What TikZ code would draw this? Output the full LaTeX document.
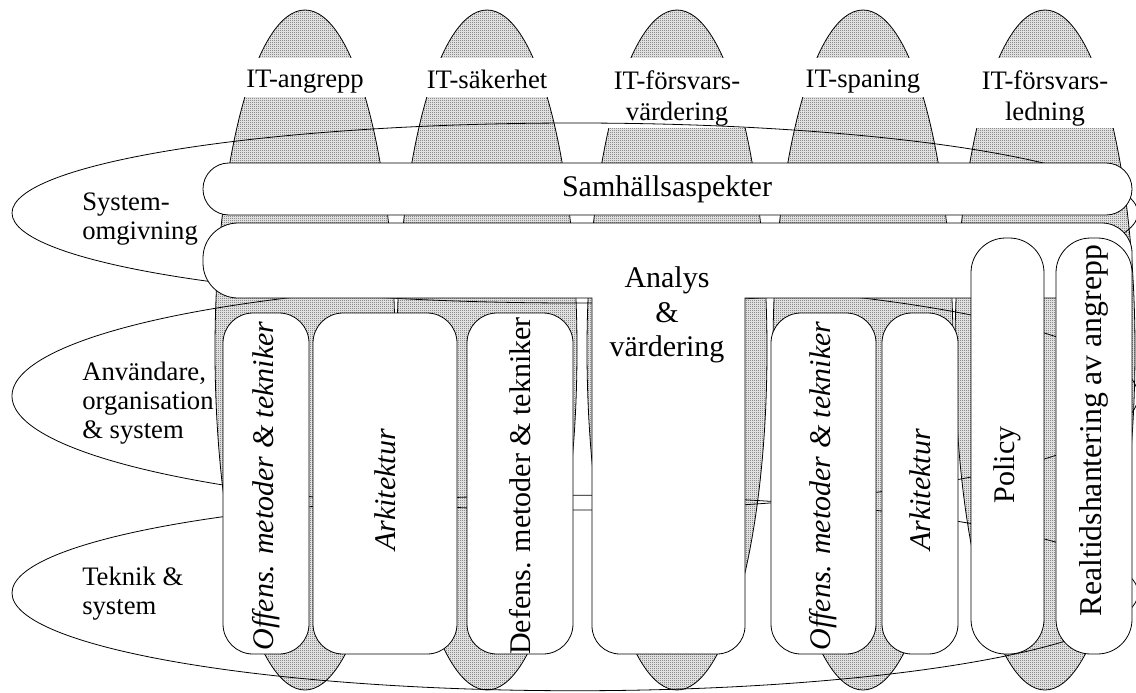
\documentclass[tikz,border=0pt]{standalone}
\usepackage{fontspec}
\setmainfont{Liberation Serif}
\usetikzlibrary{patterns}
% fine dot raster used for the shaded fields
\pgfdeclarepatternformonly{finedots}{\pgfqpoint{0pt}{0pt}}{\pgfqpoint{0.75pt}{0.75pt}}{\pgfqpoint{1.5pt}{1.5pt}}{%
  \pgfpathrectangle{\pgfqpoint{0pt}{0pt}}{\pgfqpoint{0.75pt}{0.75pt}}\pgfusepath{fill}}
\begin{document}
\begin{tikzpicture}[x=0.75pt,y=-0.75pt,
  column/.style={draw=black, line width=0.6pt, preaction={fill=black!12}, pattern=finedots, pattern color=black!45},
  ring/.style={draw=black, line width=0.6pt},
  whitebox/.style={draw=black, line width=0.6pt, fill=white},
  collabel/.style={font=\fontsize{20}{23.25}\selectfont, align=center, inner sep=0pt, anchor=north},
  rowlabel/.style={font=\fontsize{20}{21.75}\selectfont, align=left, inner sep=0pt, anchor=north west},
  boxlabel/.style={font=\fontsize{22.5}{25.9}\selectfont, align=center, inner sep=0pt},
  vlabel/.style={font=\fontsize{22.5}{25.9}\selectfont, inner sep=0pt, rotate=90},
]
\useasboundingbox (0,0) rectangle (1136,693);

% vertical fields
\foreach \cx in {305,487,677,863,1045}
  \draw[column] (\cx,350) ellipse [x radius=67.5pt, y radius=255pt];

% white bands behind the field titles
\foreach \cx/\yb in {305/97,487/97,677/128,863/97,1045/128}
  \fill[white] (\cx-75,58) rectangle (\cx+75,\yb);

\node[collabel] (t1) at (305,70) {IT-angrepp};
\node[collabel] (t2) at (487,70) {IT-säkerhet};
\node[collabel] (t3) at (677,70) {IT-försvars-\\värdering};
\node[collabel] (t4) at (863,70) {IT-spaning};
\node[collabel] (t5) at (1045,70) {IT-försvars-\\ledning};

% horizontal levels
\draw[ring] (575,213) ellipse [x radius=422.25pt, y radius=67.5pt];
\draw[ring] (575,396) ellipse [x radius=422.25pt, y radius=85.5pt];
\draw[ring] (575,593) ellipse [x radius=422.25pt, y radius=73.3pt];

\node[rowlabel] (r1) at (82,193) {System-\\omgivning};
\node[rowlabel] (r2) at (82,362) {Användare,\\organisation\\\& system};
\node[rowlabel] (r3) at (82,567) {Teknik \&\\system};

% society bar
\draw[whitebox, rounded corners=19.4pt] (203,163) rectangle (1132,215);
\node[boxlabel] (samh) at (667,189) {Samhällsaspekter};

% analysis bar with its stem
\draw[whitebox] (238,223) -- (1102,223)
  arc[start angle=-90, end angle=0, radius=30] -- (1132,268)
  arc[start angle=0, end angle=90, radius=30] -- (745,298) -- (745,626)
  arc[start angle=0, end angle=90, radius=28] -- (620,654)
  arc[start angle=90, end angle=180, radius=28] -- (592,298) -- (238,298)
  arc[start angle=90, end angle=180, radius=35] -- (203,258)
  arc[start angle=180, end angle=270, radius=35] -- cycle;
\node[boxlabel] (anal) at (667,315) {Analys\\\&\\värdering};

% boxes in the lower levels
\draw[whitebox, rounded corners=22.5pt] (223,313) rectangle (309,654);
\draw[whitebox, rounded corners=22.5pt] (313,313) rectangle (457,654);
\draw[whitebox, rounded corners=22.5pt] (467,313) rectangle (573,654);
\draw[whitebox, rounded corners=22.5pt] (771,313) rectangle (876,654);
\draw[whitebox, rounded corners=22.5pt] (882,313) rectangle (958,654);
\draw[whitebox, rounded corners=26pt] (971,238) rectangle (1044,654);
\draw[whitebox, rounded corners=26pt] (1056,238) rectangle (1132,654);

\node[vlabel] (off1) at (266,486) {\itshape Offens. metoder \& tekniker};
\node[vlabel] (ark1) at (385,490) {\itshape Arkitektur};
\node[vlabel] (def) at (520,486) {Defens. metoder \& tekniker};
\node[vlabel] (off2) at (823,486) {\itshape Offens. metoder \& tekniker};
\node[vlabel] (ark2) at (920,490) {\itshape Arkitektur};
\node[vlabel] (pol) at (1007,465) {Policy};
\node[vlabel, font=\fontsize{23.8}{27}\selectfont] (real) at (1094,431) {Realtidshantering av angrepp};
\end{tikzpicture}
\end{document}
